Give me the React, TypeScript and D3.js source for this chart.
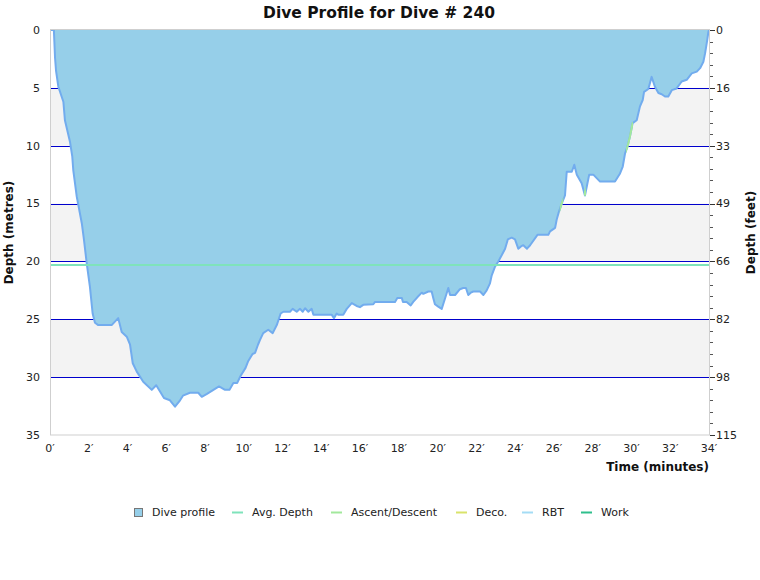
import React from "react";
import * as d3 from "d3";

// Dive profile samples: elapsed time (minutes) and depth (metres)
const profileTime = [
  0, 0.2, 0.26, 0.31, 0.43, 0.69, 0.77, 1.03, 1.15, 1.2, 1.38, 1.64, 1.75, 1.89, 2.06, 2.2, 2.32, 2.49,
  3.18, 3.52, 3.7, 3.96, 4.13, 4.27, 4.47, 4.81, 5.25, 5.48, 5.88, 6.19, 6.45, 6.71, 6.86, 7.22, 7.65,
  7.83, 8.1, 8.43, 8.72, 9.03, 9.26, 9.46, 9.66, 9.83, 10.09, 10.23, 10.45, 10.58, 10.73, 10.83, 11.0,
  11.26, 11.49, 11.7, 11.9, 12.04, 12.38, 12.52, 12.73, 12.9, 13.04, 13.16, 13.33, 13.5, 13.59, 14.53,
  14.65, 14.79, 14.87, 15.13, 15.31, 15.57, 15.82, 15.99, 16.16, 16.68, 16.77, 17.8, 17.92, 18.15, 18.21,
  18.4, 18.61, 18.74, 18.95, 19.18, 19.26, 19.52, 19.69, 19.78, 19.86, 20.03, 20.21, 20.38, 20.55, 20.64,
  20.9, 21.15, 21.32, 21.46, 21.58, 21.71, 21.84, 22.19, 22.36, 22.53, 22.7, 22.79, 22.96, 23.13, 23.31,
  23.48, 23.62, 23.82, 23.99, 24.16, 24.3, 24.42, 24.61, 24.77, 25.15, 25.71, 25.8, 26.06, 26.14, 26.23,
  26.4, 26.57, 26.66, 26.92, 27.05, 27.18, 27.43, 27.6, 27.82, 28.03, 28.38, 29.15, 29.41, 29.55, 29.67,
  29.79, 29.92, 30.06, 30.27, 30.44, 30.58, 30.65, 30.87, 31.04, 31.21, 31.39, 31.56, 31.73, 31.9, 32.08,
  32.33, 32.59, 32.85, 33.11, 33.37, 33.54, 33.71, 33.8, 33.91, 33.97, 34.0,
];
const profileDepth = [
  0, 0, 2.4, 3.5, 4.9, 6.2, 7.8, 9.65, 10.95, 12.1, 14.4, 16.7, 18.1, 20.1, 22.2, 24.5, 25.3, 25.5,
  25.5, 24.9, 26.1, 26.5, 27.2, 28.8, 29.5, 30.4, 31.1, 30.7, 31.8, 32.0, 32.55, 32.0, 31.6, 31.35, 31.35,
  31.7, 31.45, 31.1, 30.8, 31.1, 31.1, 30.5, 30.5, 29.9, 29.2, 28.6, 28.0, 27.9, 27.2, 26.8, 26.2,
  25.9, 26.2, 25.5, 24.5, 24.35, 24.35, 24.1, 24.35, 24.1, 24.35, 24.05, 24.35, 24.1, 24.6, 24.6,
  24.9, 24.5, 24.6, 24.6, 24.1, 23.6, 23.85, 23.95, 23.75, 23.7, 23.5, 23.5, 23.15, 23.15, 23.5,
  23.5, 23.8, 23.5, 23.1, 22.7, 22.8, 22.6, 22.6, 23.2, 23.7, 23.9, 24.1, 23.2, 22.3, 22.9,
  22.9, 22.4, 22.3, 22.3, 22.9, 22.7, 22.6, 22.6, 22.9, 22.5, 21.9, 21.2, 20.45, 20.0, 19.45,
  18.9, 18.1, 17.95, 18.1, 18.9, 18.7, 18.6, 18.9, 18.6, 17.7, 17.7, 17.4, 17.1, 16.4, 15.85,
  15.0, 14.3, 12.25, 12.25, 11.65, 12.5, 13.25, 14.3, 12.5, 12.5, 13.1, 13.1, 12.4, 11.8, 10.65,
  10.1, 9.2, 8.05, 7.8, 6.6, 6.05, 5.35, 5.1, 4.05, 4.9, 5.45, 5.55, 5.75, 5.75, 5.2,
  5.05, 4.45, 4.3, 3.75, 3.6, 3.3, 2.75, 2.0, 0.85, 0.15, 0,
];

// Average depth over the dive (metres)
const avgDepth = 20.3;

// Stretches of the profile flagged as ascent/descent (start, end in minutes)
const ascentStart = [26.3, 27.55, 29.72];
const ascentEnd = [26.48, 27.65, 30.08];

// Axis ticks
const timeTicks = [0, 2, 4, 6, 8, 10, 12, 14, 16, 18, 20, 22, 24, 26, 28, 30, 32, 34];
const depthTicks = [0, 5, 10, 15, 20, 25, 30, 35];
const feetLabels = ["0", "16", "33", "49", "66", "82", "98", "115"];

// Legend entries
const legendNames = ["Dive profile", "Avg. Depth", "Ascent/Descent", "Deco.", "RBT", "Work"];
const legendColors = ["#96cfe9", "#7fe3bb", "#a2e89c", "#d9e36a", "#a4dcf5", "#2fbf8c"];
const legendX = [134, 232, 331, 456, 522, 581];

const W = 760;
const H = 580;
const font = "'DejaVu Sans', Verdana, sans-serif";

export default function App() {
  const x = d3.scaleLinear().domain([0, 34]).range([50, 709]);
  const y = d3.scaleLinear().domain([0, 35]).range([30, 435]);

  const pts: [number, number][] = profileTime.map((t, i) => [t, profileDepth[i]]);

  const area = d3
    .area<[number, number]>()
    .x((d) => x(d[0]))
    .y0(y(0))
    .y1((d) => y(d[1]));
  const line = d3
    .line<[number, number]>()
    .x((d) => x(d[0]))
    .y((d) => y(d[1]));

  const linePath = line(pts) || "";
  const minorTicks = d3.range(0, 36, 1);
  const bands = [5, 15, 25];

  return (
    <svg width={W} height={H} style={{ position: "absolute", left: 0, top: 0, fontFamily: font }}>
      <defs>
        {ascentStart.map((s, i) => (
          <clipPath id={`asc${i}`} key={i}>
            <rect x={x(s)} y={0} width={x(ascentEnd[i]) - x(s)} height={H} />
          </clipPath>
        ))}
      </defs>

      {/* title */}
      <text x={379} y={18} textAnchor="middle" fontSize={15.5} fontWeight="bold" fill="#111">
        Dive Profile for Dive # 240
      </text>

      {/* alternating bands */}
      {bands.map((b) => (
        <rect key={b} x={x(0)} y={y(b)} width={x(34) - x(0)} height={y(b + 5) - y(b)} fill="#f3f3f3" />
      ))}

      {/* grid lines */}
      {depthTicks.slice(1, -1).map((d) => (
        <line key={d} x1={x(0)} x2={x(34)} y1={Math.round(y(d)) + 0.5} y2={Math.round(y(d)) + 0.5} stroke="#0000cc" strokeWidth={1} />
      ))}

      {/* dive profile */}
      <path d={area(pts) || ""} fill="#96cfe9" />
      <path d={linePath} fill="none" stroke="#72acee" strokeWidth={2} strokeLinejoin="round" />

      {/* ascent / descent highlights */}
      {ascentStart.map((_, i) => (
        <path key={i} d={linePath} fill="none" stroke="#a2e89c" strokeWidth={2} clipPath={`url(#asc${i})`} />
      ))}

      {/* average depth */}
      <line x1={x(0)} x2={x(34)} y1={y(avgDepth)} y2={y(avgDepth)} stroke="#7fe3bb" strokeWidth={2} />

      {/* frame */}
      <rect x={x(0) + 0.5} y={y(0) - 0.5} width={x(34) - x(0)} height={y(35) - y(0) + 0.5} fill="none" stroke="#cfcfcf" strokeWidth={1} />

      {/* left axis labels */}
      {depthTicks.map((d) => (
        <text key={d} x={40} y={y(d)} dy="0.35em" textAnchor="end" fontSize={11} fill="#222">
          {d}
        </text>
      ))}

      {/* right axis */}
      {minorTicks.map((m) => (
        <line
          key={m}
          x1={x(34) + 1}
          x2={x(34) + (m % 5 === 0 ? 6 : 4)}
          y1={Math.round(y(m)) + 0.5}
          y2={Math.round(y(m)) + 0.5}
          stroke={m % 5 === 0 ? "#333" : "#555"}
          strokeWidth={1}
        />
      ))}
      {depthTicks.map((d, i) => (
        <text key={d} x={x(34) + 7} y={y(d)} dy="0.35em" textAnchor="start" fontSize={11} fill="#222">
          {feetLabels[i]}
        </text>
      ))}

      {/* bottom axis labels */}
      {timeTicks.map((t) => (
        <text key={t} x={x(t)} y={452} textAnchor="middle" fontSize={11} fill="#222">
          {`${t}\u2032`}
        </text>
      ))}

      {/* axis titles */}
      <text x={709} y={471} textAnchor="end" fontSize={12} fontWeight="bold" fill="#111">
        Time (minutes)
      </text>
      <text transform={`translate(13,${y(17.5)}) rotate(-90)`} textAnchor="middle" fontSize={12} fontWeight="bold" fill="#111">
        Depth (metres)
      </text>
      <text transform={`translate(755,${y(17.5)}) rotate(-90)`} textAnchor="middle" fontSize={12} fontWeight="bold" fill="#111">
        Depth (feet)
      </text>

      {/* legend */}
      {legendNames.map((n, i) => (
        <g key={n}>
          {i === 0 ? (
            <rect x={legendX[i] + 0.5} y={508.5} width={8} height={8} fill={legendColors[i]} stroke="#777" />
          ) : (
            <line x1={legendX[i]} x2={legendX[i] + 11} y1={512.5} y2={512.5} stroke={legendColors[i]} strokeWidth={2} />
          )}
          <text x={legendX[i] + (i === 0 ? 18 : 20)} y={512.5} dy="0.35em" fontSize={11} fill="#222">
            {n}
          </text>
        </g>
      ))}
    </svg>
  );
}
